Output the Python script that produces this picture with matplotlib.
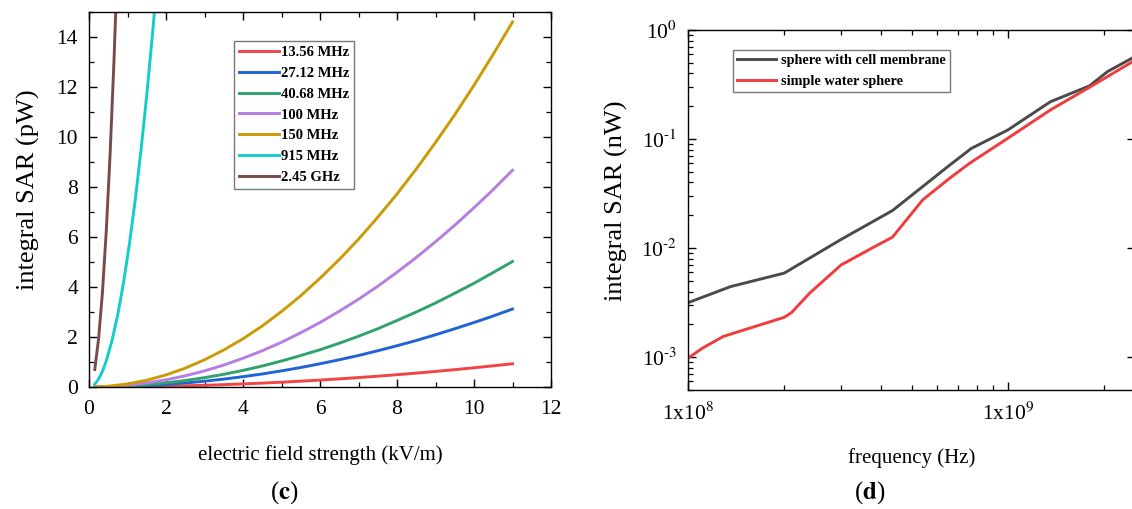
import numpy as np
import matplotlib
matplotlib.use("Agg")
import matplotlib.pyplot as plt
from matplotlib.ticker import MultipleLocator, LogLocator, NullFormatter, FixedLocator, FixedFormatter

plt.rcParams['font.family'] = ['Liberation Serif', 'DejaVu Serif']
plt.rcParams['mathtext.fontset'] = 'stix'

# --- panel (c): integral SAR (pW) vs field strength (kV/m) ---
e_field = [0.15, 0.5, 1, 1.5, 2, 2.5, 3, 3.5, 4, 4.5, 5, 5.5, 6, 6.5, 7, 7.5, 8, 8.5, 9, 9.5, 10, 10.5, 11]
sar_13 = [0.0002, 0.0019, 0.0077, 0.0173, 0.0308, 0.048, 0.069, 0.094, 0.123, 0.156, 0.192, 0.233,
          0.277, 0.325, 0.377, 0.433, 0.492, 0.556, 0.623, 0.694, 0.769, 0.848, 0.93]
sar_27 = [0.0006, 0.0065, 0.026, 0.058, 0.103, 0.161, 0.232, 0.316, 0.413, 0.522, 0.645, 0.780,
          0.929, 1.09, 1.26, 1.45, 1.65, 1.86, 2.09, 2.33, 2.58, 2.84, 3.12]
sar_40 = [0.0009, 0.010, 0.0415, 0.093, 0.166, 0.259, 0.374, 0.508, 0.664, 0.840, 1.04, 1.26,
          1.49, 1.75, 2.03, 2.33, 2.66, 3.00, 3.36, 3.75, 4.15, 4.58, 5.02]
sar_100 = [0.0016, 0.018, 0.072, 0.161, 0.287, 0.448, 0.645, 0.878, 1.15, 1.45, 1.79, 2.17,
           2.58, 3.03, 3.51, 4.03, 4.59, 5.18, 5.81, 6.47, 7.17, 7.90, 8.67]
sar_150 = [0.0027, 0.030, 0.121, 0.272, 0.483, 0.754, 1.09, 1.48, 1.93, 2.44, 3.02, 3.65,
           4.35, 5.10, 5.91, 6.79, 7.72, 8.72, 9.78, 10.89, 12.07, 13.31, 14.6]

e_915 = [0.15, 0.225, 0.3, 0.375, 0.45, 0.6, 0.75, 0.9, 1.05, 1.2, 1.35, 1.5, 1.65, 1.8]
sar_915 = [0.117, 0.263, 0.467, 0.73, 1.05, 1.87, 2.92, 4.20, 5.72, 7.47, 9.46, 11.68, 14.13, 16.8]

e_2450 = [0.15, 0.25, 0.35, 0.45, 0.55, 0.65, 0.75]
sar_2450 = [0.70, 1.94, 3.8, 6.28, 9.38, 13.1, 17.4]

labels_c = ['13.56 MHz', '27.12 MHz', '40.68 MHz', '100 MHz', '150 MHz', '915 MHz', '2.45 GHz']
colors_c = ['#f24444', '#1f63d6', '#2ea36b', '#b57ee0', '#cc9a06', '#14cccc', '#7a4a4a']

# --- panel (d): integral SAR (nW) vs frequency (Hz) ---
freq_cell = [1e8, 1.36e8, 2e8, 3.01e8, 4.36e8, 6.6e8, 7.69e8, 1e9, 1.36e9, 1.8e9, 2.05e9, 2.45e9]
sar_cell = [3.16e-3, 4.44e-3, 5.9e-3, 0.012, 0.0221, 0.058, 0.082, 0.121, 0.22, 0.307, 0.415, 0.553]

freq_water = [1e8, 1.11e8, 1.29e8, 2e8, 2.11e8, 2.4e8, 3.01e8, 3.83e8, 4.36e8, 5.42e8,
              6.58e8, 7.6e8, 1e9, 1.36e9, 1.8e9, 2.45e9]
sar_water = [9.8e-4, 1.21e-3, 1.55e-3, 2.32e-3, 2.57e-3, 3.86e-3, 7.0e-3, 0.0103, 0.0126, 0.0277,
             0.0437, 0.060, 0.1016, 0.185, 0.298, 0.51]

W, H = 1132, 509
fig = plt.figure(figsize=(W / 100, H / 100), dpi=100)


def px_axes(left, right, top, bottom):
    return fig.add_axes([left / W, 1 - bottom / H, (right - left) / W, (bottom - top) / H])


def style_ticks(ax):
    ax.tick_params(which='both', direction='in', top=True, right=True, labelsize=15.5)
    ax.tick_params(which='major', length=6, width=1.0)
    ax.tick_params(which='minor', length=3.5, width=0.9)
    ax.tick_params(axis='x', which='major', pad=9)
    ax.tick_params(axis='y', which='major', pad=8)
    for s in ax.spines.values():
        s.set_linewidth(1.0)


ax1 = px_axes(89, 551, 12, 387)
series_c = [(e_field, sar_13), (e_field, sar_27), (e_field, sar_40), (e_field, sar_100),
            (e_field, sar_150), (e_915, sar_915), (e_2450, sar_2450)]
for (x, y), lab, c in zip(series_c, labels_c, colors_c):
    ax1.plot(x, y, color=c, lw=2.1, label=lab)
ax1.set_xlim(0, 12)
ax1.set_ylim(0, 15)
ax1.xaxis.set_major_locator(MultipleLocator(2))
ax1.xaxis.set_minor_locator(MultipleLocator(1))
ax1.yaxis.set_major_locator(MultipleLocator(2))
ax1.yaxis.set_minor_locator(MultipleLocator(1))
style_ticks(ax1)
ax1.set_xlabel('electric field strength (kV/m)', fontsize=15)
ax1.xaxis.set_label_coords(0.5, -0.155)
ax1.set_ylabel('integral SAR (pW)', fontsize=19)
ax1.yaxis.set_label_coords(-0.106, 0.525)
leg1 = ax1.legend(loc='upper left', bbox_to_anchor=(0.314, 0.923), frameon=True, fancybox=False,
                  edgecolor='#555555', prop={'weight': 'bold', 'size': 10.5}, handlelength=2.7,
                  handletextpad=0.15, borderpad=0.35, labelspacing=0.52, borderaxespad=0)
leg1.get_frame().set_linewidth(1.0)

ax2 = px_axes(688, 1135, 30, 390)
ax2.plot(freq_cell, sar_cell, color='#4a4a4a', lw=2.1, label='sphere with cell membrane')
ax2.plot(freq_water, sar_water, color='#f03c3c', lw=2.1, label='simple water sphere')
ax2.set_xscale('log')
ax2.set_yscale('log')
ax2.set_xlim(1e8, 2.5e9)
ax2.set_ylim(5e-4, 1)
ax2.xaxis.set_major_locator(FixedLocator([1e8, 1e9]))
ax2.xaxis.set_major_formatter(FixedFormatter([r'1x10$^{8}$', r'1x10$^{9}$']))
ax2.xaxis.set_minor_locator(LogLocator(base=10, subs=np.arange(2, 10)))
ax2.xaxis.set_minor_formatter(NullFormatter())
ax2.yaxis.set_major_locator(FixedLocator([1e-3, 1e-2, 1e-1, 1]))
ax2.yaxis.set_major_formatter(FixedFormatter([r'10$^{\text{-3}}$', r'10$^{\text{-2}}$',
                                              r'10$^{\text{-1}}$', r'10$^{0}$']))
ax2.yaxis.set_minor_locator(LogLocator(base=10, subs=np.arange(2, 10)))
ax2.yaxis.set_minor_formatter(NullFormatter())
style_ticks(ax2)
ax2.tick_params(which='minor', right=False)
ax2.set_xlabel('frequency (Hz)', fontsize=15)
ax2.xaxis.set_label_coords(0.5, -0.16)
ax2.set_ylabel('integral SAR (nW)', fontsize=19)
ax2.yaxis.set_label_coords(-0.135, 0.525)
leg2 = ax2.legend(loc='upper left', bbox_to_anchor=(0.1, 0.944), frameon=True, fancybox=False,
                  edgecolor='#555555', prop={'weight': 'bold', 'size': 10.3}, handlelength=2.7,
                  handletextpad=0.4, borderpad=0.3, labelspacing=0.5, borderaxespad=0)
leg2.get_frame().set_linewidth(1.0)

fig.text(284 / W, 1 - 493 / H, r'($\mathbf{c}$)', ha='center', va='center', fontsize=18)
fig.text(870 / W, 1 - 493 / H, r'($\mathbf{d}$)', ha='center', va='center', fontsize=18)

fig.savefig('out.png', dpi=100)
